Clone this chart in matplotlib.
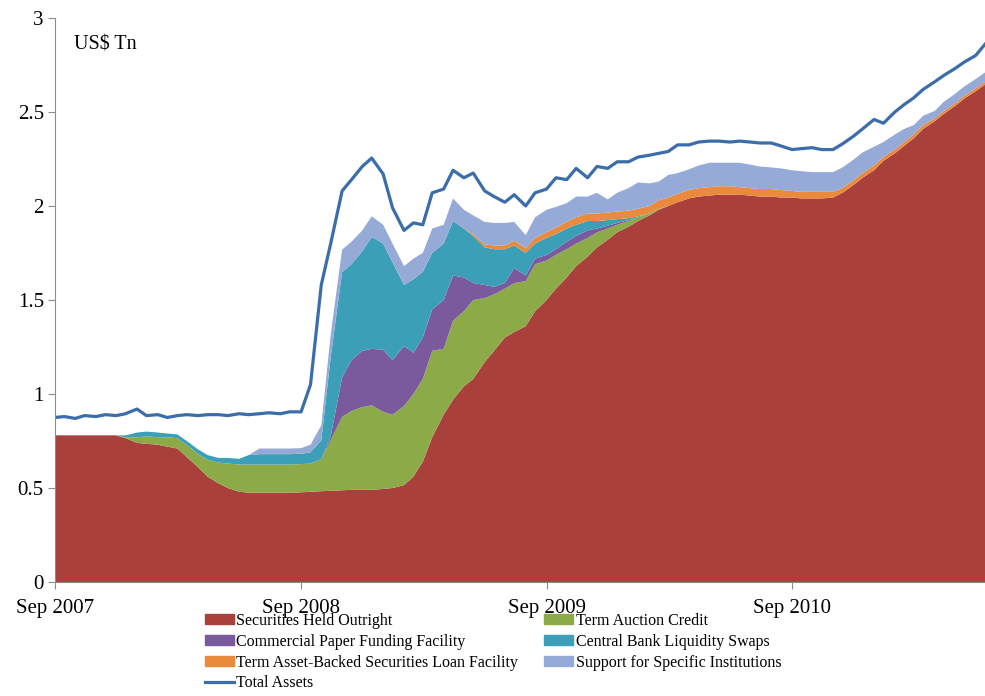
import matplotlib
matplotlib.use('Agg')
import matplotlib.pyplot as plt
import matplotlib.patches as mpatches
import matplotlib.lines as mlines
import pandas as pd

plt.rcParams['font.family'] = ['Liberation Serif', 'DejaVu Serif']

# semi-monthly observations, Sep 2007 - Jun 2011 (US$ Tn)
dates = pd.date_range('2007-09-01', '2011-06-15', freq='SMS')

securities = [0.78, 0.78, 0.78, 0.78, 0.78, 0.78, 0.78, 0.765, 0.74, 0.735, 0.73, 0.72,
              0.71, 0.665, 0.61, 0.56, 0.525, 0.50, 0.48, 0.475, 0.475, 0.475, 0.475, 0.475,
              0.477, 0.48, 0.483, 0.485, 0.488, 0.49, 0.49, 0.49, 0.495, 0.50, 0.515, 0.56,
              0.64, 0.77, 0.89, 0.97, 1.04, 1.08, 1.17, 1.23, 1.30, 1.33, 1.36, 1.44,
              1.50, 1.56, 1.62, 1.68, 1.73, 1.78, 1.82, 1.86, 1.89, 1.92, 1.95, 1.98,
              2.00, 2.02, 2.04, 2.05, 2.055, 2.06, 2.06, 2.06, 2.055, 2.05, 2.05, 2.045,
              2.045, 2.04, 2.04, 2.04, 2.045, 2.07, 2.11, 2.15, 2.19, 2.24, 2.28, 2.32,
              2.36, 2.41, 2.45, 2.49, 2.53, 2.57, 2.61, 2.645]

tac = [0, 0, 0, 0, 0, 0, 0, 0.005, 0.03, 0.04, 0.04, 0.05,
       0.055, 0.065, 0.07, 0.09, 0.11, 0.13, 0.145, 0.15, 0.15, 0.15, 0.15, 0.15,
       0.15, 0.15, 0.17, 0.27, 0.39, 0.42, 0.44, 0.45, 0.41, 0.39, 0.42, 0.44,
       0.44, 0.46, 0.35, 0.42, 0.40, 0.42, 0.34, 0.30, 0.26, 0.26, 0.24, 0.25,
       0.21, 0.18, 0.15, 0.12, 0.10, 0.08, 0.06, 0.04, 0.03, 0.02, 0.01, 0.005,
       0, 0, 0, 0, 0, 0, 0, 0, 0, 0, 0, 0,
       0, 0, 0, 0, 0, 0, 0, 0, 0, 0, 0, 0,
       0, 0, 0, 0, 0, 0, 0, 0]

cpff = [0, 0, 0, 0, 0, 0, 0, 0, 0, 0, 0, 0,
        0, 0, 0, 0, 0, 0, 0, 0, 0, 0, 0, 0,
        0, 0, 0, 0.02, 0.21, 0.27, 0.30, 0.30, 0.33, 0.29, 0.32, 0.22,
        0.22, 0.22, 0.26, 0.24, 0.18, 0.09, 0.07, 0.04, 0.03, 0.08, 0.03, 0.03,
        0.03, 0.03, 0.04, 0.04, 0.04, 0.02, 0.015, 0.01, 0.005, 0, 0, 0,
        0, 0, 0, 0, 0, 0, 0, 0, 0, 0, 0, 0,
        0, 0, 0, 0, 0, 0, 0, 0, 0, 0, 0, 0,
        0, 0, 0, 0, 0, 0, 0, 0]

swaps = [0, 0, 0, 0, 0, 0, 0, 0.01, 0.025, 0.025, 0.025, 0.02,
         0.02, 0.02, 0.025, 0.025, 0.025, 0.03, 0.03, 0.05, 0.055, 0.055, 0.055, 0.055,
         0.055, 0.06, 0.10, 0.42, 0.56, 0.51, 0.53, 0.595, 0.565, 0.52, 0.325, 0.39,
         0.35, 0.30, 0.30, 0.29, 0.26, 0.25, 0.20, 0.20, 0.18, 0.12, 0.12, 0.08,
         0.09, 0.08, 0.07, 0.06, 0.05, 0.04, 0.03, 0.02, 0.01, 0.005, 0, 0,
         0, 0, 0, 0, 0, 0, 0, 0, 0, 0, 0, 0,
         0, 0, 0, 0, 0, 0, 0, 0, 0, 0, 0, 0,
         0, 0, 0, 0, 0, 0, 0, 0]

talf = [0, 0, 0, 0, 0, 0, 0, 0, 0, 0, 0, 0,
        0, 0, 0, 0, 0, 0, 0, 0, 0, 0, 0, 0,
        0, 0, 0, 0, 0, 0, 0, 0, 0, 0, 0, 0,
        0, 0, 0, 0, 0, 0.01, 0.015, 0.02, 0.02, 0.025, 0.025, 0.03,
        0.03, 0.035, 0.035, 0.04, 0.04, 0.04, 0.04, 0.04, 0.04, 0.04, 0.04, 0.045,
        0.045, 0.045, 0.045, 0.045, 0.045, 0.045, 0.045, 0.04, 0.04, 0.04, 0.04, 0.04,
        0.035, 0.035, 0.035, 0.035, 0.03, 0.025, 0.025, 0.025, 0.025, 0.02, 0.02, 0.02,
        0.02, 0.02, 0.015, 0.015, 0.015, 0.015, 0.015, 0.015]

support = [0, 0, 0, 0, 0, 0, 0, 0, 0, 0, 0, 0,
           0, 0, 0, 0, 0, 0, 0, 0, 0.03, 0.03, 0.03, 0.03,
           0.03, 0.04, 0.08, 0.12, 0.12, 0.12, 0.11, 0.11, 0.10, 0.10, 0.10, 0.11,
           0.10, 0.13, 0.10, 0.12, 0.10, 0.10, 0.12, 0.12, 0.12, 0.10, 0.07, 0.11,
           0.12, 0.11, 0.10, 0.11, 0.09, 0.11, 0.07, 0.10, 0.12, 0.14, 0.12, 0.10,
           0.12, 0.11, 0.11, 0.12, 0.13, 0.125, 0.125, 0.13, 0.125, 0.12, 0.115, 0.115,
           0.11, 0.11, 0.105, 0.105, 0.105, 0.11, 0.11, 0.11, 0.10, 0.08, 0.08, 0.07,
           0.05, 0.05, 0.04, 0.05, 0.05, 0.05, 0.05, 0.05]

total = [0.875, 0.88, 0.87, 0.885, 0.88, 0.89, 0.885, 0.895, 0.92, 0.885, 0.89, 0.875,
         0.885, 0.89, 0.885, 0.89, 0.89, 0.885, 0.895, 0.89, 0.895, 0.90, 0.895, 0.905,
         0.905, 1.05, 1.58, 1.80, 2.08, 2.14, 2.21, 2.255, 2.17, 1.99, 1.87, 1.91,
         1.90, 2.07, 2.09, 2.19, 2.15, 2.175, 2.08, 2.05, 2.02, 2.06, 2.00, 2.07,
         2.09, 2.15, 2.14, 2.20, 2.15, 2.21, 2.20, 2.235, 2.235, 2.26, 2.27, 2.28,
         2.29, 2.325, 2.325, 2.34, 2.345, 2.345, 2.34, 2.345, 2.34, 2.335, 2.335, 2.32,
         2.30, 2.305, 2.31, 2.30, 2.30, 2.33, 2.37, 2.41, 2.46, 2.44, 2.50, 2.54,
         2.575, 2.62, 2.66, 2.695, 2.73, 2.765, 2.80, 2.86]

labels = ['Securities Held Outright', 'Term Auction Credit', 'Commercial Paper Funding Facility',
          'Central Bank Liquidity Swaps', 'Term Asset-Backed Securities Loan Facility',
          'Support for Specific Institutions']
colors = ['#A9403C', '#8DAA49', '#7A5A9D', '#3B9FB7', '#E98A3C', '#95AAD6']
line_color = '#3B6DAA'

tick_dates = pd.to_datetime(['2007-09-01', '2008-09-01', '2009-09-01', '2010-09-01'])
tick_labels = ['Sep 2007', 'Sep 2008', 'Sep 2009', 'Sep 2010']

fig = plt.figure(figsize=(9.85, 6.96), dpi=100)
ax = fig.add_axes([0.0558, 0.1638, 0.9442, 0.8104])

ax.stackplot(dates, securities, tac, cpff, swaps, talf, support,
             colors=colors, linewidth=0)
ax.plot(dates, total, color=line_color, linewidth=2.3)

ax.set_xlim(dates[0], dates[-1])
ax.set_ylim(0, 3)
ax.set_yticks([0, 0.5, 1, 1.5, 2, 2.5, 3])
ax.set_yticklabels(['0', '0.5', '1', '1.5', '2', '2.5', '3'])
ax.set_xticks(tick_dates)
ax.set_xticklabels(tick_labels)

for s in ['top', 'right']:
    ax.spines[s].set_visible(False)
for s in ['left', 'bottom']:
    ax.spines[s].set_color('#8C8C8C')
    ax.spines[s].set_linewidth(0.8)
ax.tick_params(axis='y', length=5, color='#8C8C8C', labelsize=15, pad=3)
ax.tick_params(axis='x', length=5, color='#8C8C8C', labelsize=15, pad=7)

ax.text(0.02, 0.952, 'US$ Tn', transform=ax.transAxes, fontsize=14.5, va='center')

patches = [mpatches.Patch(color=c, label=l) for c, l in zip(colors, labels)]
tline = mlines.Line2D([], [], color=line_color, linewidth=2.3, label='Total Assets')
handles = [patches[0], patches[2], patches[4], tline, patches[1], patches[3], patches[5]]
fig.legend(handles=handles, loc='upper left', bbox_to_anchor=(205 / 985, 1 - 613 / 696),
           ncol=2, frameon=False, fontsize=11.5, handlelength=1.8, handleheight=0.6,
           handletextpad=0.15, labelspacing=0.3, columnspacing=1.65, borderaxespad=0,
           borderpad=0)

fig.savefig('out.png', dpi=100)
